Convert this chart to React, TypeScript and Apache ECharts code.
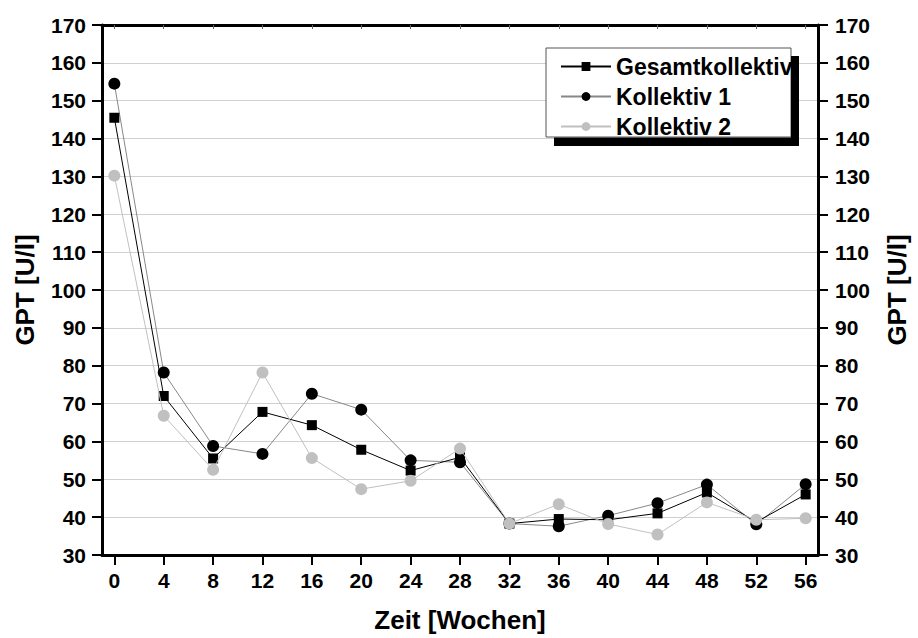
import React, { useEffect, useRef } from "react";
import * as echarts from "echarts";

const weeks = [0, 4, 8, 12, 16, 20, 24, 28, 32, 36, 40, 44, 48, 52, 56];
const gesamt = [145.5, 72, 55.5, 67.8, 64.3, 57.8, 52.3, 55.8, 38.3, 39.5, 39.3, 41, 46.5, 38.7, 46];
const kollektiv1 = [154.5, 78.2, 58.8, 56.7, 72.6, 68.4, 55, 54.5, 38.3, 37.6, 40.4, 43.7, 48.6, 38.1, 48.7];
const kollektiv2 = [130.2, 66.8, 52.5, 78.2, 55.6, 47.4, 49.6, 58.1, 38.3, 43.4, 38.2, 35.4, 43.9, 39.3, 39.7];
const seriesNames = ["Gesamtkollektiv", "Kollektiv 1", "Kollektiv 2"];
const yTickMin = 30;
const yTickMax = 170;
const yTickStep = 10;

const FONT = '"Liberation Sans", Arial, sans-serif';

const pairs = (vals: number[]) => weeks.map((w, i) => [w, vals[i]]);

export default function App() {
  const ref = useRef<HTMLDivElement>(null);
  useEffect(() => {
    if (!ref.current) return;
    const chart = echarts.init(ref.current, null, { renderer: "svg" });
    const labelStyle = { color: "#000", fontFamily: FONT, fontWeight: "bold" as const, fontSize: 21 };
    const nameStyle = { color: "#000", fontFamily: FONT, fontWeight: "bold" as const, fontSize: 26 };
    const axisLine = { show: true, onZero: false, lineStyle: { color: "#000", width: 3 } };
    chart.setOption({
      animation: false,
      backgroundColor: "#fff",
      grid: { left: 102, right: 95, top: 25, bottom: 81, containLabel: false },
      legend: {
        data: seriesNames,
        orient: "vertical",
        left: 555,
        top: 50,
        itemWidth: 50,
        itemHeight: 11,
        itemGap: 7,
        selectedMode: false,
        z: 4,
        textStyle: { color: "#000", fontFamily: FONT, fontWeight: "bold", fontSize: 23 },
      },
      xAxis: [
        {
          type: "value",
          min: -1,
          max: 57,
          position: "bottom",
          name: "Zeit [Wochen]",
          nameLocation: "middle",
          nameGap: 52,
          nameTextStyle: nameStyle,
          axisLine,
          axisTick: { show: true, customValues: weeks, length: 10, lineStyle: { color: "#000", width: 2 } },
          axisLabel: { show: true, customValues: weeks, margin: 15, ...labelStyle },
          splitLine: { show: false },
        },
        {
          type: "value",
          min: -1,
          max: 57,
          position: "top",
          axisLine,
          axisTick: { show: true, inside: true, customValues: weeks, length: 4, lineStyle: { color: "#666", width: 1 } },
          axisLabel: { show: false },
          splitLine: { show: false },
        },
      ],
      yAxis: [
        {
          type: "value",
          min: yTickMin,
          max: yTickMax,
          interval: yTickStep,
          position: "left",
          name: "GPT [U/l]",
          nameLocation: "middle",
          nameGap: 64,
          nameTextStyle: nameStyle,
          axisLine,
          axisTick: { show: true, length: 10, lineStyle: { color: "#000", width: 2 } },
          axisLabel: { margin: 16, ...labelStyle },
          splitLine: { show: true, lineStyle: { color: "#d0d0d0", width: 1 } },
        },
        {
          type: "value",
          min: yTickMin,
          max: yTickMax,
          interval: yTickStep,
          position: "right",
          name: "GPT [U/l]",
          nameLocation: "middle",
          nameGap: 66,
          nameTextStyle: nameStyle,
          axisLine,
          axisTick: { show: true, length: 10, lineStyle: { color: "#000", width: 2 } },
          axisLabel: { margin: 17, ...labelStyle },
          splitLine: { show: false },
        },
      ],
      graphic: [
        {
          type: "rect",
          z: 3,
          shape: { x: 546, y: 48, width: 245, height: 89 },
          style: { fill: "#fff", stroke: "#555", lineWidth: 1 },
        },
        {
          type: "rect",
          z: 10,
          shape: { x: 791, y: 56, width: 8, height: 90 },
          style: { fill: "#000" },
        },
        {
          type: "rect",
          z: 10,
          shape: { x: 554, y: 137.5, width: 245, height: 8.5 },
          style: { fill: "#000" },
        },
      ],
      series: [
        {
          name: seriesNames[1],
          type: "line",
          data: pairs(kollektiv1),
          symbol: "circle",
          symbolSize: 12,
          itemStyle: { color: "#000" },
          lineStyle: { color: "#888", width: 1 },
          z: 2,
        },
        {
          name: seriesNames[0],
          type: "line",
          data: pairs(gesamt),
          symbol: "rect",
          symbolSize: 10,
          itemStyle: { color: "#000" },
          lineStyle: { color: "#000", width: 1 },
          z: 3,
        },
        {
          name: seriesNames[2],
          type: "line",
          data: pairs(kollektiv2),
          symbol: "circle",
          symbolSize: 12,
          itemStyle: { color: "#c0c0c0" },
          lineStyle: { color: "#c0c0c0", width: 1 },
          z: 4,
        },
      ],
    });
    return () => chart.dispose();
  }, []);
  return <div ref={ref} style={{ position: "fixed", left: 0, top: 0, width: 918, height: 638 }} />;
}
